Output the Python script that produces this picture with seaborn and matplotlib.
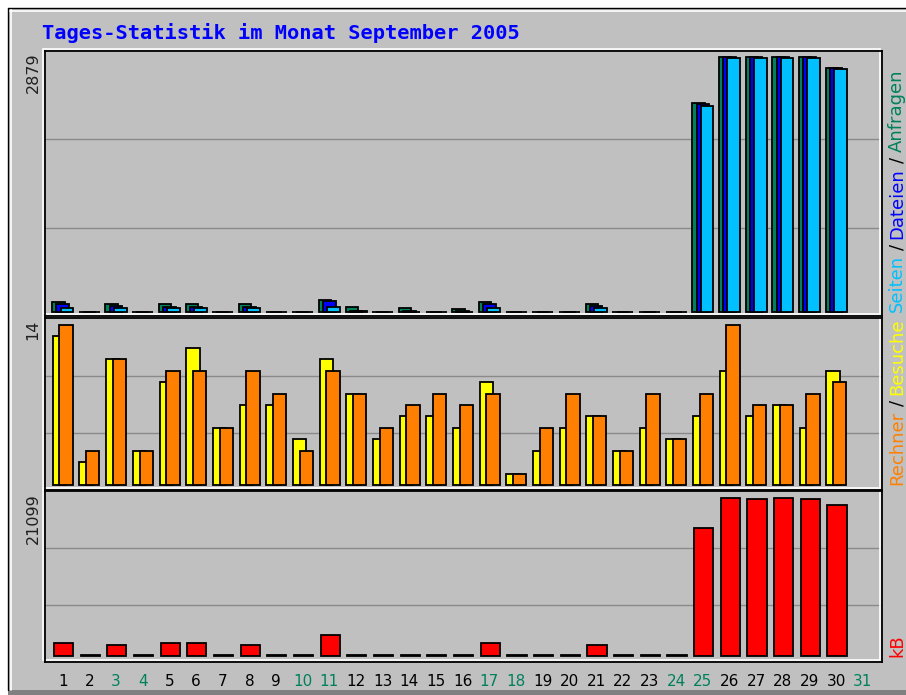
import numpy as np
import pandas as pd
import matplotlib
matplotlib.use("Agg")
import matplotlib.pyplot as plt
import matplotlib.transforms as mtransforms
from matplotlib.patches import Rectangle
import seaborn as sns

# Daily values, September 2005
days = list(range(1, 31))
day_labels = [str(d) for d in range(1, 32)]
weekend_days = [3, 4, 10, 11, 17, 18, 24, 25, 31]

hits = [110, 5, 90, 5, 90, 90, 5, 90, 4, 4, 140, 60, 5, 40, 5,
        35, 110, 4, 4, 4, 90, 4, 4, 4, 2360, 2879, 2879, 2879, 2879, 2760]
files = [90, 2, 65, 2, 60, 60, 2, 55, 2, 2, 120, 8, 2, 6, 2,
         6, 90, 2, 2, 2, 70, 2, 2, 2, 2350, 2875, 2875, 2876, 2874, 2752]
pages = [50, 1, 45, 1, 45, 45, 1, 45, 1, 1, 55, 6, 1, 4, 1,
         4, 50, 1, 1, 1, 45, 1, 1, 1, 2330, 2870, 2872, 2871, 2870, 2740]
visits = [13, 2, 11, 3, 9, 12, 5, 7, 7, 4, 11, 8, 4, 6, 6,
          5, 9, 1, 3, 5, 6, 3, 5, 4, 6, 10, 6, 7, 5, 10]
sites = [14, 3, 11, 3, 10, 10, 5, 10, 8, 3, 10, 8, 5, 7, 8,
         7, 8, 1, 5, 8, 6, 3, 8, 4, 8, 14, 7, 7, 8, 9]
kbytes = [1700, 50, 1430, 50, 1700, 1700, 50, 1430, 40, 40, 2815, 60, 40, 50, 40,
          50, 1700, 30, 30, 30, 1430, 30, 30, 30, 17160, 21099, 21050, 21080, 21060, 20160]

title = "Tages-Statistik im Monat September 2005"

GRAY = "#c0c0c0"
C_HITS, C_FILES, C_PAGES = "#00805c", "#0000ff", "#00c0ff"
C_VISITS, C_SITES, C_KB = "#ffff00", "#ff8000", "#ff0000"

W, H = 906, 695
sns.set_theme(style="white")
plt.rcParams["font.family"] = ["DejaVu Sans"]

fig = plt.figure(figsize=(W / 100, H / 100), dpi=100)
fig.patch.set_facecolor("white")


def fx(x):
    return x / W


def fy(y):
    return 1 - y / H


def px_box(left, top, right, bottom):
    return [fx(left), fy(bottom), (right - left) / W, (bottom - top) / H]


# outer frame of the image
fig.add_artist(Rectangle((fx(8), fy(690)), fx(906 - 8), (690 - 8) / H,
                         facecolor=GRAY, edgecolor="none"))
fig.add_artist(Rectangle((fx(8), 0), 1, (695 - 690) / H, facecolor="#808080", edgecolor="none"))
fig.add_artist(plt.Line2D([fx(8), 1], [fy(8), fy(8)], color="black", lw=1.0))
fig.add_artist(plt.Line2D([fx(8), fx(8)], [fy(690), fy(8)], color="black", lw=1.0))
fig.add_artist(plt.Line2D([fx(10), 1], [fy(10.5), fy(10.5)], color="white", lw=1.2))
fig.add_artist(plt.Line2D([fx(10.5), fx(10.5)], [fy(690), fy(10)], color="white", lw=1.2))

ax1 = fig.add_axes(px_box(44.5, 51, 881.5, 316.5), zorder=3)
ax2 = fig.add_axes(px_box(44.5, 318.5, 881.5, 489.5), zorder=2)
ax3 = fig.add_axes(px_box(44.5, 491, 881.5, 661.5), zorder=1)


def draw_bars(ax, values, offset, width, color):
    df = pd.DataFrame({"day": np.array(days, dtype=float) + offset, "value": values})
    sns.barplot(data=df, x="day", y="value", native_scale=True, width=width,
                color=color, saturation=1, edgecolor="black", linewidth=1.3,
                errorbar=None, ax=ax)


draw_bars(ax1, hits, -0.16, 0.47, C_HITS)
draw_bars(ax1, files, 0.0, 0.47, C_FILES)
draw_bars(ax1, pages, 0.16, 0.47, C_PAGES)
draw_bars(ax2, visits, -0.12, 0.5, C_VISITS)
draw_bars(ax2, sites, 0.13, 0.5, C_SITES)
draw_bars(ax3, kbytes, 0.03, 0.72, C_KB)

limits = [(ax1, max(hits), -0.0177, 1.0236),
          (ax2, max(sites), -0.028, 1.041),
          (ax3, max(kbytes), -0.0368, 1.0464)]
for ax, top, lo, hi in limits:
    ax.set_facecolor(GRAY)
    ax.set_xlim(0.318, 31.70)
    ax.set_ylim(lo * top, hi * top)
    ax.set_xlabel("")
    ax.set_ylabel("")
    ax.set_yticks([])
    for f in (1 / 3, 2 / 3):
        ax.plot([0, 1], [f, f], transform=ax.transAxes, color="#8a8a8a", lw=1.0, zorder=0.5)
    for s in ax.spines.values():
        s.set_visible(True)
        s.set_color("black")
        s.set_linewidth(1.3)
    bevel = mtransforms.offset_copy(ax.transAxes, fig=fig, x=-2, y=2, units="dots")
    ax.add_patch(Rectangle((0, 0), 1, 1, transform=bevel, fill=False,
                           edgecolor="white", lw=1.2, clip_on=False, zorder=2.4))

ax1.set_xticks([])
ax2.set_xticks([])
ax3.set_xticks(range(1, 32))
ax3.set_xticklabels(day_labels, fontsize=11)
ax3.tick_params(axis="x", length=0, pad=9)
for lab, d in zip(ax3.get_xticklabels(), range(1, 32)):
    lab.set_color(C_HITS if d in weekend_days else "black")

fig.text(fx(42), fy(33), title, color="#0000ff", fontsize=14.7, fontweight="bold",
         family="DejaVu Sans Mono", ha="left", va="center")

# maxima on the left
for text, ytop in [(str(max(hits)), 52), (str(max(sites)), 320), (str(max(kbytes)), 493)]:
    fig.text(fx(33), fy(ytop), text, rotation=90, ha="center", va="top",
             fontsize=11.5, color="#202020")

# coloured legends on the right, written upwards from the bars' baseline
renderer = fig.canvas.get_renderer()


def stack_label(pieces, x_px, y_bottom):
    y = y_bottom
    for txt, col in pieces:
        t = fig.text(fx(x_px), fy(y), txt, rotation=90, ha="center", va="bottom",
                     fontsize=13, color=col)
        y -= t.get_window_extent(renderer).height + 5


stack_label([("Seiten", C_PAGES), ("/", "black"), ("Dateien", C_FILES),
             ("/", "black"), ("Anfragen", C_HITS)], 897, 312)
stack_label([("Rechner", C_SITES), ("/", "black"), ("Besuche", C_VISITS)], 897, 485)
stack_label([("kB", C_KB)], 897, 657)

fig.savefig("out.png", dpi=100)
